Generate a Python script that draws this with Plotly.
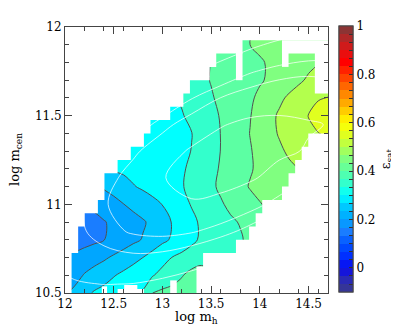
import plotly.graph_objects as go

# grid of the map
log_mh = [round(12.0 + 0.1 * i, 1) for i in range(28)]
log_mcen = [round(10.5 + 0.1 * j, 1) for j in range(16)]

N = None
# satellite fraction eps_sat, one row per log m_cen value (None = not read)
eps_rows = [
    # 10.5
    [N, .235, .262, .280, .290, .300, .307, .317, .328, .375, .385, .390, .395, .400, N, N, N, N, N, N, N, N, N, N, N, N, N, N],
    # 10.6
    [N, .210, .228, .242, .256, .272, .285, .298, .310, .322, .340, .355, .372, .390, .400, N, N, N, N, N, N, N, N, N, N, N, N, N],
    # 10.7
    [N, .190, .200, .208, .218, .232, .246, .260, .275, .292, .308, .326, .337, .347, .355, .360, .365, N, N, N, N, N, N, N, N, N, N, N],
    # 10.8
    [N, .150, .155, .165, .174, .187, .200, .215, .228, .248, .266, .280, .297, .315, .332, .345, .355, .363, .370, N, N, N, N, N, N, N, N, N],
    # 10.9
    [N, N, .150, .158, .172, .185, .197, .208, .220, .236, .257, .277, .295, .314, .332, .346, .358, .368, .378, .388, .395, N, N, N, N, N, N, N],
    # 11.0
    [N, N, N, N, .200, .212, .224, .237, .249, .262, .276, .293, .310, .328, .342, .356, .370, .385, .398, .410, .422, N, N, N, N, N, N, N],
    # 11.1
    [N, N, N, N, .230, .240, .255, .272, .282, .292, .302, .312, .322, .337, .350, .367, .383, .398, .413, .428, .440, .450, .460, .470, N, N, N, N],
    # 11.2
    [N, N, N, N, N, .280, .285, .290, .296, .302, .308, .314, .320, .333, .350, .364, .379, .393, .407, .421, .434, .444, .455, .466, .476, N, N, N],
    # 11.3
    [N, N, N, N, N, N, N, .293, .297, .301, .305, .310, .316, .326, .342, .358, .376, .390, .406, .422, .437, .452, .467, .482, .495, .505, N, N],
    # 11.4
    [N, N, N, N, N, N, N, N, .298, .302, .306, .311, .317, .324, .342, .358, .376, .392, .408, .426, .443, .461, .479, .492, .505, .518, N, N],
    # 11.5
    [N, N, N, N, N, N, N, N, N, N, .305, .313, .322, .336, .350, .364, .378, .393, .408, .423, .443, .463, .481, .496, .511, .526, .540, .555],
    # 11.6
    [N, N, N, N, N, N, N, N, N, N, N, N, .330, .345, .358, .371, .384, .396, .408, .419, .433, .450, .466, .482, .495, .508, .522, N],
    # 11.7
    [N, N, N, N, N, N, N, N, N, N, N, N, N, N, .365, .377, .387, .396, .405, .413, .421, .430, .443, .455, .468, .481, N, N],
    # 11.8
    [N, N, N, N, N, N, N, N, N, N, N, N, N, N, N, N, .388, .397, .405, .413, .421, .429, .438, .447, .456, .465, .474, N],
    # 11.9
    [N, N, N, N, N, N, N, N, N, N, N, N, N, N, N, N, N, N, N, .425, .432, .438, N, N, N, N, N, N],
    # 12.0
    [N] * 28,
]

# bins that hold galaxies: 40 bins in log m_h, 20 bins in log m_cen
bin_dx, bin_dy = 0.0675, 0.075
n_xbins, n_ybins = 40, 20
# first / last filled x-bin of every y-bin (bottom to top)
filled_first = [1, 1, 1, 2, 2, 3, 5, 6, 6, 8, 10, 12, 13, 16, 18, 19, 22, 23, 27, 40]
filled_last = [19, 19, 20, 25, 27, 28, 29, 32, 33, 34, 35, 36, 39, 39, 39, 37, 37, 37, 32, -1]
# empty gaps inside, in bin units: (x from, x to, y from, y to)
empty_blocks = [(5.6, 6.4, 0, 0.5), (8, 12, 0, 0.3), (9, 11, 0, 0.6), (16, 17, 0, 0.95),
                (26, 27, 16, 18.05), (33, 34, 17, 18.05)]

# galaxy number density: squared distance from the density peak (coarse grid)
dens_mh = [11.8, 12.1, 12.4, 12.7, 13.0, 13.3, 13.6, 13.9, 14.2, 14.5, 14.8]
dens_mcen = [10.4, 10.55, 10.7, 10.85, 11.0, 11.15, 11.3, 11.45, 11.6, 11.75, 11.9, 12.05]
dens_d2 = [
    [3.779, 3.625, 3.645, 3.843, 4.216, 4.765, 5.491, 6.392, 7.469, 8.723, 10.153],
    [2.917, 2.611, 2.479, 2.524, 2.745, 3.142, 3.715, 4.463, 5.388, 6.490, 7.767],
    [2.401, 1.943, 1.658, 1.551, 1.619, 1.864, 2.285, 2.881, 3.653, 4.602, 5.727],
    [2.234, 1.622, 1.186, 0.926, 0.842, 0.934, 1.202, 1.647, 2.267, 3.063, 4.036],
    [2.411, 1.648, 1.059, 0.646, 0.410, 0.350, 0.466, 0.757, 1.226, 1.870, 2.689],
    [2.936, 2.020, 1.279, 0.714, 0.325, 0.113, 0.076, 0.216, 0.531, 1.023, 1.691],
    [3.807, 2.739, 1.845, 1.128, 0.587, 0.222, 0.033, 0.021, 0.183, 0.350, 0.700],
    [5.025, 3.804, 2.759, 1.889, 1.196, 0.678, 0.337, 0.171, 0.182, 0.250, 0.350],
    [6.589, 5.216, 4.018, 2.997, 2.151, 1.481, 0.987, 0.670, 0.528, 0.562, 0.700],
    [8.500, 6.975, 5.624, 4.450, 3.452, 2.630, 1.984, 1.514, 1.220, 1.102, 1.160],
    [10.758, 9.080, 7.577, 6.251, 5.100, 4.126, 3.327, 2.705, 2.258, 1.988, 1.894],
    [13.362, 11.531, 9.877, 8.398, 7.095, 5.968, 5.017, 4.243, 3.643, 3.221, 2.975],
]
dens_levels = [0.3, 1.0, 1.45, 2.5]

levels = dict(start=0.175, end=0.525, size=0.05)
band_colors = ['#1a7dff', '#00a6ff', '#00c8ff', '#00ffff', '#33ffcc',
               '#5cffa3', '#80ff80', '#b3ff4d', '#e0ff1f']

# colour bar palette (value, colour)
cbar_anchors = [(-0.1, '#3a3a8a'), (-0.05, '#2a2ab5'), (0.0, '#0a0aee'), (0.05, '#0030ff'),
                (0.1, '#0055ff'), (0.15, '#1a7dff'), (0.2, '#00a6ff'), (0.25, '#00c8ff'),
                (0.3, '#00ffff'), (0.35, '#33ffcc'), (0.4, '#5cffa3'), (0.45, '#80ff80'),
                (0.5, '#b3ff4d'), (0.55, '#e0ff1f'), (0.6, '#ffff00'), (0.65, '#ffcc00'),
                (0.7, '#ff9900'), (0.75, '#ff6600'), (0.8, '#ff3300'), (0.85, '#ff0000'),
                (0.9, '#e01515'), (0.95, '#b02828'), (1.0, '#7a3a3a')]
cbar_ticks = [0, 0.2, 0.4, 0.6, 0.8, 1]


def hex2rgb(h):
    return [int(h[i:i + 2], 16) for i in (1, 3, 5)]


def colour_at(v):
    for (v0, c0), (v1, c1) in zip(cbar_anchors[:-1], cbar_anchors[1:]):
        if v0 <= v <= v1:
            t = (v - v0) / (v1 - v0)
            a, b = hex2rgb(c0), hex2rgb(c1)
            return 'rgb(%d,%d,%d)' % tuple(round(a[k] + t * (b[k] - a[k])) for k in range(3))
    return cbar_anchors[-1][1]


vmin, vmax, nb = -0.1, 1.0, 33
cbar_scale = []
for k in range(nb):
    c = colour_at(vmin + (k + 0.5) * (vmax - vmin) / nb)
    cbar_scale += [[k / nb, c], [(k + 1) / nb, c]]

nlev = len(band_colors) - 1
band_scale = [[j / nlev, c] for j, c in enumerate(band_colors)]


def xe(i):
    return 12 + i * bin_dx


def ye(j):
    return 10.5 + j * bin_dy


# outline of the empty area left/above and right/below the filled bins
left_x, left_y = [xe(0), xe(0)], [ye(n_ybins), ye(0)]
right_x, right_y = [xe(n_xbins)], [ye(0)]
for j in range(n_ybins):
    xl = xe(min(filled_first[j], n_xbins))
    xr = xe(filled_last[j] + 1) if filled_last[j] >= 0 else xe(n_xbins)
    left_x += [xl, xl]
    left_y += [ye(j), ye(j + 1)]
    right_x += [xr, xr]
    right_y += [ye(j), ye(j + 1)]
left_x.append(xe(n_xbins))
left_y.append(ye(n_ybins))
right_x.append(xe(n_xbins))
right_y.append(ye(n_ybins))

serif = '"DejaVu Serif", serif'

fig = go.Figure()

fig.add_trace(go.Contour(
    x=log_mh, y=log_mcen, z=eps_rows,
    connectgaps=True,
    autocontour=False,
    contours=dict(coloring='fill', showlines=True, **levels),
    line=dict(color='#505050', width=1, smoothing=1.0),
    colorscale=band_scale,
    showscale=False,
    hoverinfo='skip',
))

for lev in dens_levels:
    fig.add_trace(go.Contour(
        x=dens_mh, y=dens_mcen, z=dens_d2,
        autocontour=False,
        contours=dict(coloring='none', start=lev, end=lev, size=1),
        line=dict(color='rgba(255,255,255,0.9)', width=0.8, smoothing=1.0),
        showscale=False, hoverinfo='skip',
    ))

# blank out the bins without galaxies
mask_style = dict(mode='lines', fill='toself', fillcolor='white', line=dict(width=0),
                  hoverinfo='skip', showlegend=False)
fig.add_trace(go.Scatter(x=left_x, y=left_y, **mask_style))
fig.add_trace(go.Scatter(x=right_x, y=right_y, **mask_style))
for x0, x1, y0, y1 in empty_blocks:
    fig.add_trace(go.Scatter(x=[xe(x0), xe(x1), xe(x1), xe(x0), xe(x0)],
                             y=[ye(y0), ye(y0), ye(y1), ye(y1), ye(y0)], **mask_style))

cbar_common = dict(x=1.04, xanchor='left', xpad=0, y=1.0035, yanchor='top', ypad=0,
                   len=1.0, thickness=14, outlinecolor='#444', outlinewidth=1,
                   ticks='inside', ticklen=4, tickcolor='#333', tickwidth=1)

# colour bar with labels
fig.add_trace(go.Scatter(
    x=[None], y=[None], mode='markers', hoverinfo='skip', showlegend=False,
    marker=dict(color=[0], colorscale=cbar_scale, cmin=vmin, cmax=vmax, showscale=True,
                colorbar=dict(
                    tickmode='array', tickvals=cbar_ticks,
                    ticktext=['%g' % v for v in cbar_ticks],
                    tickfont=dict(family=serif, size=12, color='black'),
                    title=dict(text='ε<sub>sat</sub>', side='right',
                               font=dict(family=serif, size=13, color='black')),
                    **cbar_common)),
))
# band dashes on top of it
band_edges = [round(vmin + k * (vmax - vmin) / nb, 4) for k in range(nb + 1)]
fig.add_trace(go.Scatter(
    x=[None], y=[None], mode='markers', hoverinfo='skip', showlegend=False,
    marker=dict(color=[0], colorscale=cbar_scale, cmin=vmin, cmax=vmax, showscale=True,
                colorbar=dict(tickmode='array', tickvals=band_edges, showticklabels=False,
                              **cbar_common)),
))

axis_common = dict(showline=True, linecolor='#444', linewidth=1, mirror='allticks',
                   ticks='inside', ticklen=7, tickcolor='#444', showgrid=False, zeroline=False,
                   layer='above traces',
                   tickfont=dict(family=serif, size=12, color='black'))

fig.update_xaxes(range=[12, 14.7], tick0=12, dtick=0.5,
                 minor=dict(dtick=0.2, tick0=12, ticks='inside', ticklen=4, tickcolor='#444'),
                 **axis_common)
fig.update_yaxes(range=[10.5, 12], tick0=10.5, dtick=0.5,
                 minor=dict(dtick=0.1, tick0=10.5, ticks='inside', ticklen=4, tickcolor='#444'),
                 **axis_common)

title_font = dict(family=serif, size=13, color='black')
fig.add_annotation(text='log m<sub>h</sub>', xref='paper', yref='paper', x=0.5, y=-0.053,
                   xanchor='center', yanchor='top', showarrow=False, font=title_font)
fig.add_annotation(text='log m<sub>cen</sub>', xref='paper', yref='paper', x=-0.19, y=0.5,
                   xanchor='center', yanchor='middle', textangle=-90, showarrow=False,
                   font=title_font)

fig.update_layout(
    width=399, height=328,
    margin=dict(l=57, r=69, t=13, b=43),
    plot_bgcolor='white', paper_bgcolor='white',
    showlegend=False,
)

fig.write_html('out.html')
